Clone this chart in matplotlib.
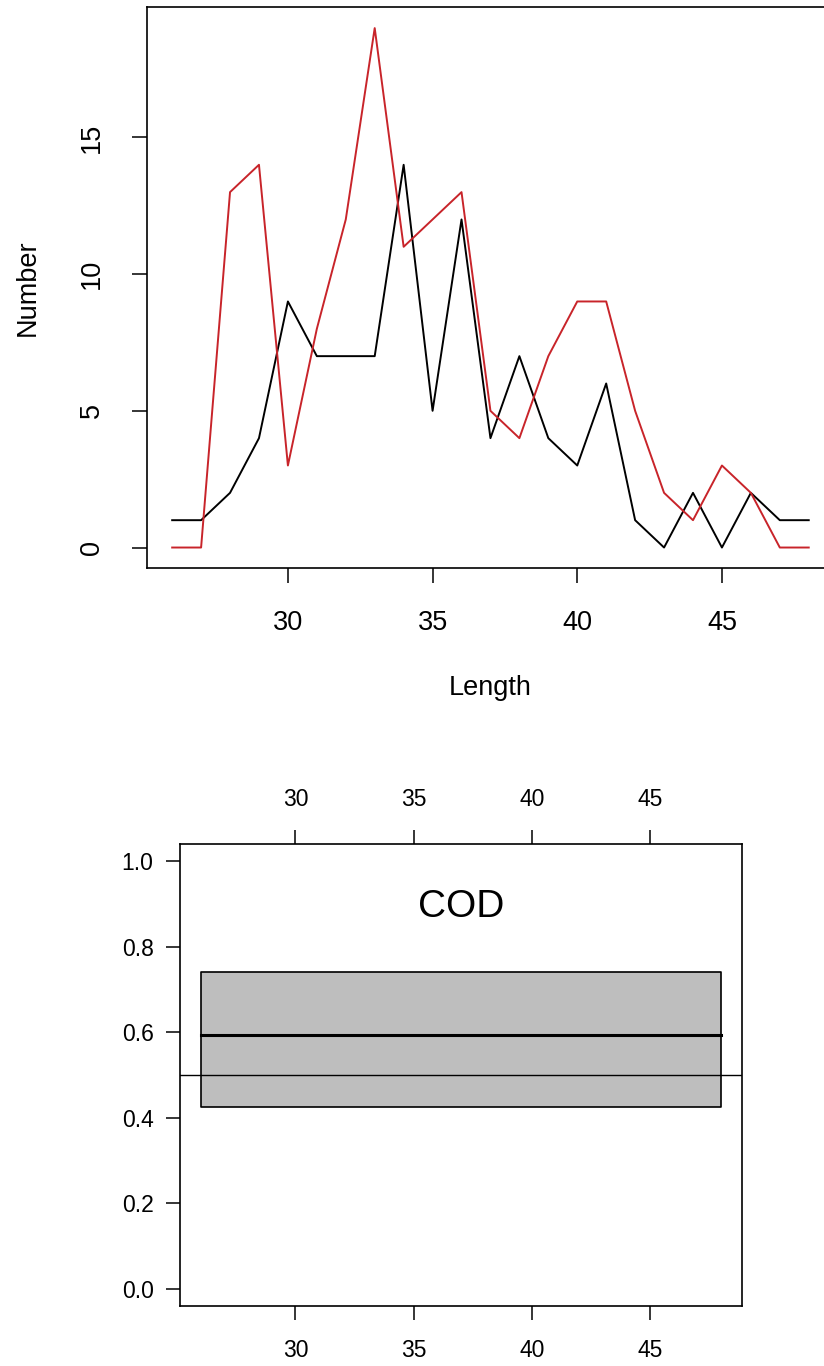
import matplotlib
matplotlib.use("Agg")
import matplotlib.pyplot as plt

plt.rcParams['font.family'] = ['Liberation Sans', 'DejaVu Sans']

# ---- data ----
lengths = list(range(26, 49))
number_black = [1, 1, 2, 4, 9, 7, 7, 7, 14, 5, 12, 4, 7, 4, 3, 6, 1, 0, 2, 0, 2, 1, 1]
number_red = [0, 0, 13, 14, 3, 8, 12, 19, 11, 12, 13, 5, 4, 7, 9, 9, 5, 2, 1, 3, 2, 0, 0]
top_xticks = [30, 35, 40, 45]
top_yticks = [0, 5, 10, 15]

box_range = [26, 48]
box_lower = 0.426
box_median = 0.593
box_upper = 0.741
ref_line = 0.5
bottom_xticks = [30, 35, 40, 45]
bottom_yticks = [0.0, 0.2, 0.4, 0.6, 0.8, 1.0]
species = "COD"

W, H = 824, 1366
fig = plt.figure(figsize=(W / 100, H / 100), dpi=100)

def rect(l, t, r, b):
    return [l / W, 1 - b / H, (r - l) / W, (b - t) / H]

# ---- top panel ----
ax1 = fig.add_axes(rect(146.7, 7.3, 834.2, 568.3))
ax1.plot(lengths, number_black, color='black', lw=1.4)
ax1.plot(lengths, number_red, color='#C8242A', lw=1.4)
xr = max(lengths) - min(lengths)
ax1.set_xlim(min(lengths) - 0.04 * xr, max(lengths) + 0.04 * xr)
yr = max(max(number_black), max(number_red))
ax1.set_ylim(-0.04 * yr, yr * 1.04)
ax1.set_xticks(top_xticks)
ax1.set_yticks(top_yticks)
ax1.set_yticklabels([str(v) for v in top_yticks], rotation=90, va='center')
ax1.tick_params(axis='both', direction='out', length=11, width=1.1,
                labelsize=19.5, colors='black')
ax1.tick_params(axis='x', pad=19)
ax1.tick_params(axis='y', pad=19)
for s in ax1.spines.values():
    s.set_linewidth(1.2)
ax1.set_xlabel('Length', fontsize=19.5, va='center')
ax1.xaxis.set_label_coords(0.5, -(688 - 568.3) / 561.0)
ax1.set_ylabel('Number', fontsize=19.5, va='center')
ax1.yaxis.set_label_coords(-(146.7 - 28) / 687.5, 0.5)

# ---- bottom panel ----
ax2 = fig.add_axes(rect(180, 844.3, 741.7, 1306))
ax2.fill_between(box_range, [box_lower] * 2, [box_upper] * 2,
                 facecolor='#BEBEBE', edgecolor='black', lw=1.2, zorder=2)
ax2.plot(box_range, [box_median] * 2, color='black', lw=2.2, zorder=3)
ax2.axhline(ref_line, color='black', lw=1.0, zorder=4)
br = box_range[1] - box_range[0]
ax2.set_xlim(box_range[0] - 0.04 * br, box_range[1] + 0.04 * br)
ax2.set_ylim(-0.04, 1.04)
ax2.set_xticks(bottom_xticks)
ax2.set_yticks(bottom_yticks)
ax2.set_yticklabels(['%.1f' % v for v in bottom_yticks])
ax2.tick_params(axis='both', direction='out', length=10, width=1.1,
                labelsize=16.5, colors='black')
ax2.tick_params(axis='x', top=True, labeltop=True, bottom=True, labelbottom=True, pad=14)
ax2.tick_params(axis='y', pad=9)
for s in ax2.spines.values():
    s.set_linewidth(1.2)
ax2.text(37, 0.893, species, fontsize=28, ha='center', va='center')

fig.savefig('out.png', dpi=100)
